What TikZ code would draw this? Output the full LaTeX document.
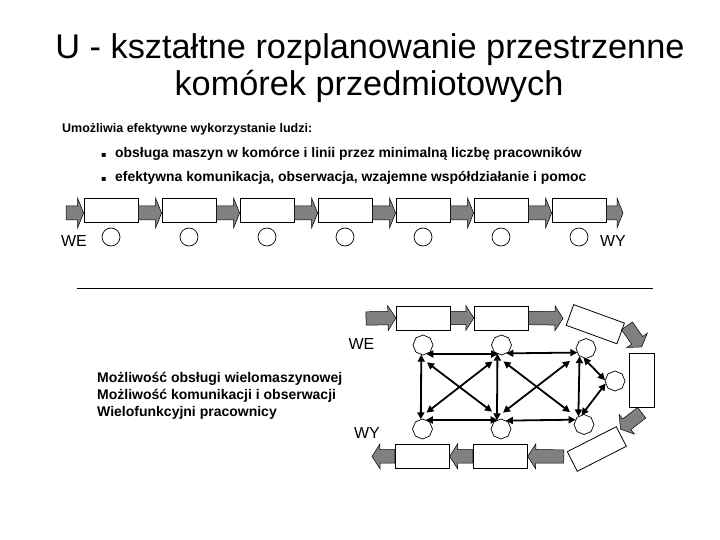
\documentclass[tikz,border=0pt]{standalone}
\usepackage{fontspec}
\setmainfont{Liberation Sans}
\newfontfamily\symfont{DejaVu Sans}
\usetikzlibrary{arrows.meta,shapes.geometric,calc}
\definecolor{arrowgray}{RGB}{128,128,128}
\begin{document}
\begin{tikzpicture}[x=1pt,y=-1pt,
  machine/.style={draw, fill=white, line width=0.8pt, minimum width=54pt, minimum height=24pt, inner sep=0pt},
  op/.style={draw, circle, line width=0.7pt, minimum size=18pt, inner sep=0pt},
  oct/.style={draw, regular polygon, regular polygon sides=8, shape border rotate=22.5, line width=0.7pt, minimum size=20pt, inner sep=0pt},
  lbl/.style={inner sep=0pt, font=\fontsize{16}{18}\selectfont},
  txt/.style={inner sep=0pt, anchor=base west, font=\bfseries\fontsize{12.5}{15}\selectfont},
  bigtxt/.style={inner sep=0pt, anchor=base west, font=\bfseries\fontsize{13.9}{16}\selectfont},
  ttl/.style={inner sep=0pt, anchor=base, font=\fontsize{34.3}{37}\selectfont},
  link/.style={line width=1.8pt, {Triangle[length=7pt,width=7pt]}-{Triangle[length=7pt,width=7pt]}},
  barrow/.style n args={3}{draw=black, line width=0.5pt, fill=arrowgray,
    to path={let \p1=(\tikztostart), \p2=(\tikztotarget),
      \n1={atan2(\y2-\y1,\x2-\x1)}, \n2={veclen(\x2-\x1,\y2-\y1)-#3},
      \n3={\n1+90}, \n4={\n1-90} in
      -- ($(\p1)+(\n3:#1)$)
      -- ($(\p1)+(\n1:\n2)+(\n3:#1)$)
      -- ($(\p1)+(\n1:\n2)+(\n3:#2)$)
      -- (\p2)
      -- ($(\p1)+(\n1:\n2)+(\n4:#2)$)
      -- ($(\p1)+(\n1:\n2)+(\n4:#1)$)
      -- ($(\p1)+(\n4:#1)$) -- cycle}},
  topflow/.style={barrow={7pt}{15pt}{6pt}},
  lowflow/.style={barrow={6.7pt}{12.5pt}{8pt}}
]
\useasboundingbox (0,0) rectangle (720,540);

% title
\node[ttl] (t1) at (370,59) {U - kształtne rozplanowanie przestrzenne};
\node[ttl] (t2) at (369,96) {komórek przedmiotowych};

% text
\node[txt] (s0) at (62,133) {Umożliwia efektywne wykorzystanie ludzi:};
\node[bigtxt] (p1) at (101,158) {{\symfont\fontsize{8}{10}\selectfont ▪}};
\node[bigtxt] (s1) at (115,158) {obsługa maszyn w komórce i linii przez minimalną liczbę pracowników};
\node[bigtxt] (p2) at (101,182) {{\symfont\fontsize{8}{10}\selectfont ▪}};
\node[bigtxt] (s2) at (115,182) {efektywna komunikacja, obserwacja, wzajemne współdziałanie i pomoc};

% straight line
\foreach \i in {1,...,7} {
  \node[machine] (m\i) at ({33+78*\i},210) {};
  \node[op] (o\i) at ({33+78*\i},237) {};
}
\coordinate (in1) at (66,213);
\coordinate (out1) at (623,213);
\draw[topflow] (in1) to ([yshift=-3pt]m1.west);
\foreach \i [remember=\i as \prev (initially 1)] in {2,...,7}
  \draw[topflow] ([yshift=-3pt]m\prev.east) to ([yshift=-3pt]m\i.west);
\draw[topflow] ([yshift=-3pt]m7.east) to (out1);
\node[lbl] (we1) at (74,241) {WE};
\node[lbl] (wy1) at (613,241) {WY};

% separator
\coordinate (r1) at (77,288);
\coordinate (r2) at (653,288);
\draw[line width=0.8pt] (r1) -- (r2);

% U-shaped cell
\node[machine] (A) at (423.3,318) {};
\node[machine] (B) at (501.2,318) {};
\node[machine, minimum width=54pt, minimum height=22pt, rotate=-20] (C) at (595.3,324.2) {};
\node[machine, minimum width=25pt, minimum height=54pt] (D) at (641.7,380.3) {};
\node[machine, minimum width=55pt, minimum height=22pt, rotate=27] (E) at (596.8,449) {};
\node[machine] (F) at (500.3,456.3) {};
\node[machine] (G) at (422.2,456.3) {};

\coordinate (in2) at (366,318.5);
\coordinate (c3) at (563,318.5);
\coordinate (out2) at (372,456.5);
\draw[lowflow] (in2) to (A.west);
\draw[lowflow] (A.east) to (B.west);
\draw[lowflow] (B.east) to (c3);
\draw[lowflow] ([shift={(2pt,-3pt)}]C.north east) to ([yshift=6pt]D.north);
\draw[lowflow] ([yshift=-5pt]D.south) to ([shift={(4pt,-3pt)}]E.north east);
\draw[lowflow] ([shift={(-3pt,-5pt)}]E.north west) to (F.east);
\draw[lowflow] (F.west) to (G.east);
\draw[lowflow] (G.west) to (out2);

\node[lbl] (we2) at (361.5,344) {WE};
\node[lbl] (wy2) at (367,433) {WY};

% operators
\node[oct] (n1) at (423,345) {};
\node[oct] (n2) at (501.5,345) {};
\node[oct] (n3) at (586,348.5) {};
\node[oct] (n4) at (615,381) {};
\node[oct] (n5) at (422.5,429) {};
\node[oct] (n6) at (501,429) {};
\node[oct] (n7) at (584,424.5) {};

\draw[link] (n1.-70) -- (n2.-110);
\draw[link] (n2.-60) -- (n3.205);
\draw[link] (n5.70) -- (n6.110);
\draw[link] (n6.60) -- (n7.150);
\draw[link] (n1.-100) -- (n5.100);
\draw[link] (n2.-115) -- (n6.115);
\draw[link] (n3.-130) -- (n7.125);
\draw[link] ([shift={(4pt,-7pt)}]n1.south) -- ([shift={(-9pt,7pt)}]n6.north);
\draw[link] ([shift={(-9pt,-6pt)}]n2.south) -- ([shift={(4pt,6pt)}]n5.north);
\draw[link] ([shift={(2pt,-6pt)}]n2.south) -- ([shift={(-14pt,2pt)}]n7.north);
\draw[link] ([shift={(2pt,6pt)}]n6.north) -- ([shift={(-16pt,-2pt)}]n3.south);
\draw[link] (n3.-105) -- (n4.175);
\draw[link] (n4.-165) -- (n7.105);

% lower text
\node[bigtxt, font=\bfseries\fontsize{14}{16}\selectfont] (l1) at (97,382.5) {Możliwość obsługi wielomaszynowej};
\node[bigtxt, font=\bfseries\fontsize{14}{16}\selectfont] (l2) at (97,399.5) {Możliwość komunikacji i obserwacji};
\node[bigtxt, font=\bfseries\fontsize{14}{16}\selectfont] (l3) at (97,416.5) {Wielofunkcyjni pracownicy};
\end{tikzpicture}
\end{document}
